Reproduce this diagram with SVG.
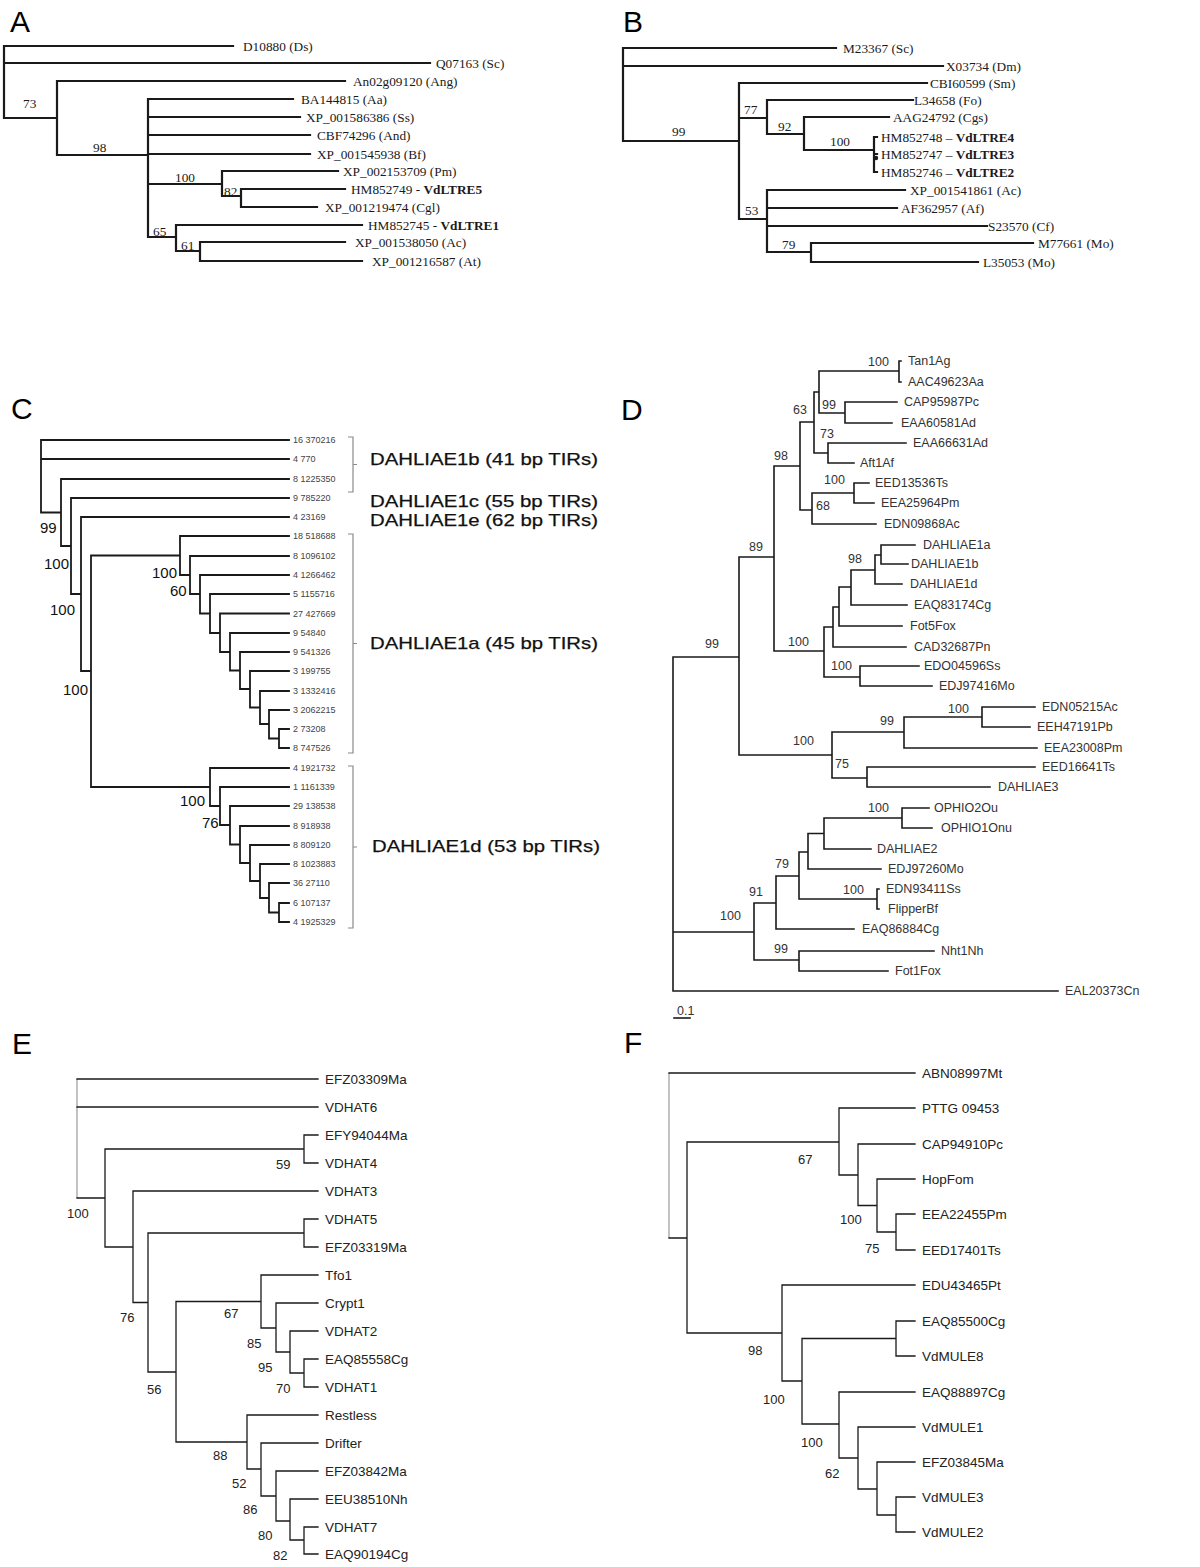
<svg xmlns="http://www.w3.org/2000/svg" width="1200" height="1567" viewBox="0 0 1200 1567">
<style>
.bg{fill:#fff}
.e1{fill:none;stroke:#1a1a1a;stroke-width:2.2;stroke-linecap:square}
.e2{fill:none;stroke:#1a1a1a;stroke-width:1.8;stroke-linecap:square}
.e3{fill:none;stroke:#1a1a1a;stroke-width:1.6;stroke-linecap:square}
.e4{fill:none;stroke:#1a1a1a;stroke-width:1.3;stroke-linecap:square}
.rt{fill:none;stroke:#9a9a9a;stroke-width:1.2}
.br{fill:none;stroke:#8a8a8a;stroke-width:1.2}
.pl{font-family:"Liberation Sans",Arial,sans-serif;font-size:30px;fill:#000}
.sr{font-family:"Liberation Serif","Times New Roman",serif;font-size:13.3px;fill:#1a1a1a}
.b{font-weight:bold}
.cs{font-family:"Liberation Sans",Arial,sans-serif;font-size:9px;fill:#444}
.cb{font-family:"Liberation Sans",Arial,sans-serif;font-size:15px;fill:#111}
.cg{font-family:"Liberation Sans",Arial,sans-serif;font-size:17px;fill:#111;stroke:#111;stroke-width:0.25}
.ds{font-family:"Liberation Sans",Arial,sans-serif;font-size:12.5px;fill:#333}
.es{font-family:"Liberation Sans",Arial,sans-serif;font-size:13.5px;fill:#222}
.eb{font-family:"Liberation Sans",Arial,sans-serif;font-size:13px;fill:#222}
</style>
<rect class="bg" x="0" y="0" width="1200" height="1567"/>

<!-- Panel labels -->
<text class="pl" x="10" y="32">A</text>
<text class="pl" x="623" y="32">B</text>
<text class="pl" x="11" y="419">C</text>
<text class="pl" x="621" y="420">D</text>
<text class="pl" x="12" y="1054">E</text>
<text class="pl" x="624" y="1053">F</text>

<!-- ================= CONNECTORS ================= -->
<g id="connectors">
 <g id="A-edges">
  <path class="e1" d="M4 46V118M4 46H233M4 63H430M4 118H57
   M57 81V155M57 81H345M57 155H148
   M148 99V237M148 99H293M148 117H300M148 135H310M148 154H310M148 184H222M148 237H176
   M222 171V196M222 171H338M222 196H241
   M241 189V207M241 189H345M241 207H317
   M176 225V251M176 225H362M176 251H200
   M200 242V261M200 242H345M200 261H362"/>
 </g>
 <g id="B-edges">
  <path class="e1" d="M623 48V141M623 48H836M623 66H943M623 141H739
   M739 83V219M739 83H927M739 118H767M739 219H767
   M767 100V134M767 100H913M767 134H804
   M804 117V150M804 117H889M804 150H874
   M874 137V172M874 137H877M874 154H877M874 172H877
   M767 190V252M767 190H905M767 208H897M767 226H987M767 252H811
   M811 243V262M811 243H1033M811 262H978"/>
  <circle cx="876" cy="158" r="2.2" fill="#1a1a1a"/>
 </g>
 <g id="C-edges">
  <path class="e2" d="M41 440V512.5M41 440H289M41 459H289M41 512.5H61
   M61 479V546M61 479H289M61 546H71
   M71 498V594M71 498H289M71 594H81
   M81 517V671M81 517H289M81 671H91
   M91 555.5V787M91 555.5H180M91 787H210
   M180 536V575M180 536H289M180 575H190
   M190 556V594M190 556H289M190 594H200
   M200 575V613.5M200 575H289M200 613.5H210
   M210 594V633M210 594H289M210 633H220
   M220 613.5V652M220 613.5H289M220 652H230
   M230 633V670.5M230 633H289M230 670.5H240
   M240 652V689M240 652H289M240 689H250
   M250 671V707.5M250 671H289M250 707.5H260
   M260 691V724M260 691H289M260 724H269
   M269 710V738.5M269 710H289M269 738.5H279
   M279 729V748M279 729H289M279 748H289
   M210 768V806M210 768H289M210 806H220
   M220 787V825M220 787H289M220 825H230
   M230 806V844.5M230 806H289M230 844.5H240
   M240 826V863M240 826H289M240 863H250
   M250 845V881M250 845H289M250 881H260
   M260 864V898M260 864H289M260 898H269
   M269 883V912.5M269 883H289M269 912.5H279
   M279 903V922M279 903H289M279 922H289"/>
  <path class="br" d="M348 437H353V492H348M353 464.5H357
   M348 534H353V753H348M353 643.5H357
   M348 766H353V928H348M353 847H357"/>
 </g>
 <g id="D-edges">
  <path class="e3" d="M673 657V991M673 657H739M673 932H754M673 991H1058
   M739 557V755M739 557H774M739 755H832
   M774 466V651M774 466H800M774 651H824
   M800 422V510M800 422H814M800 510H812
   M814 392V453M814 392H819M814 453H828
   M819 371V413M819 371H899M819 413H845
   M899 361V382M899 361H901M899 382H901
   M845 402V423M845 402H897M845 423H892
   M828 443V463M828 443H906M828 463H854
   M812 493V524M812 493H854M812 524H876
   M854 483V503M854 483H869M854 503H874
   M824 627V677M824 627H833M824 677H860
   M833 607V647M833 607H839M833 647H906
   M839 587V626M839 587H851M839 626H902
   M851 570V605M851 570H875M851 605H907
   M875 555V584M875 555H881M875 584H902
   M881 545V564M881 545H915M881 564H908
   M860 666V686M860 666H919M860 686H932
   M832 732V778M832 732H904M832 778H867
   M904 717V748M904 717H982M904 748H1037
   M982 707V727M982 707H1035M982 727H1030
   M867 767V787M867 767H1035M867 787H990
   M754 903V960M754 903H776M754 960H799
   M776 876V929M776 876H799M776 929H854
   M799 852V899M799 852H808M799 899H877
   M808 833.5V869M808 833.5H824M808 869H881
   M824 818V849M824 818H902M824 849H871
   M902 808V828M902 808H929M902 828H932
   M877 889V909M877 889H879M877 909H879
   M799 951V971M799 951H934M799 971H888"/>
  <path class="e3" d="M674 1018H690"/>
 </g>
 <g id="E-edges">
  <path class="rt" d="M77 1079V1198"/>
  <path class="e4" d="M77 1079H318M77 1107H318M77 1198H105
   M105 1149V1247M105 1149H304M105 1247H133
   M304 1135V1163M304 1135H318M304 1163H318
   M133 1191V1302.5M133 1191H318M133 1302.5H148
   M148 1233V1372M148 1233H304M148 1372H176
   M304 1219V1247M304 1219H318M304 1247H318
   M176 1301.5V1442M176 1301.5H261M176 1442H247
   M261 1275V1328M261 1275H318M261 1328H276
   M276 1303V1352M276 1303H318M276 1352H290
   M290 1331V1373M290 1331H318M290 1373H304
   M304 1359V1387M304 1359H318M304 1387H318
   M247 1415V1469M247 1415H318M247 1469H261
   M261 1443V1496M261 1443H318M261 1496H276
   M276 1471V1521M276 1471H318M276 1521H290
   M290 1499V1540M290 1499H318M290 1540H304
   M304 1527V1554M304 1527H318M304 1554H318"/>
 </g>
 <g id="F-edges">
  <path class="rt" d="M669 1073V1238"/>
  <path class="e4" d="M669 1073H915M669 1238H687
   M687 1142V1333M687 1142H839M687 1333H782
   M839 1108V1175M839 1108H915M839 1175H858
   M858 1144V1205.5M858 1144H915M858 1205.5H877
   M877 1179V1232M877 1179H915M877 1232H896
   M896 1214V1250M896 1214H915M896 1250H915
   M782 1285V1381M782 1285H915M782 1381H802
   M802 1338.5V1424M802 1338.5H896M802 1424H839
   M896 1321V1356M896 1321H915M896 1356H915
   M839 1392V1458M839 1392H915M839 1458H858
   M858 1427V1489M858 1427H915M858 1489H877
   M877 1462V1515M877 1462H915M877 1515H896
   M896 1497V1532M896 1497H915M896 1532H915"/>
 </g>
</g>

<!-- ================= PANEL A NODES ================= -->
<g id="panelA">
 <g id="A-D10880"><text class="sr" x="243" y="50.5">D10880 (Ds)</text></g>
 <g id="A-Q07163"><text class="sr" x="436" y="67.5">Q07163 (Sc)</text></g>
 <g id="A-An02g09120"><text class="sr" x="353" y="85.5">An02g09120 (Ang)</text></g>
 <g id="A-BA144815"><text class="sr" x="301" y="103.5">BA144815 (Aa)</text></g>
 <g id="A-XP001586386"><text class="sr" x="306" y="121.5">XP_001586386 (Ss)</text></g>
 <g id="A-CBF74296"><text class="sr" x="317" y="139.5">CBF74296 (And)</text></g>
 <g id="A-XP001545938"><text class="sr" x="317" y="158.5">XP_001545938 (Bf)</text></g>
 <g id="A-XP002153709"><text class="sr" x="343" y="175.5">XP_002153709 (Pm)</text></g>
 <g id="A-HM852749"><text class="sr" x="351" y="193.5">HM852749 - <tspan class="b">VdLTRE5</tspan></text></g>
 <g id="A-XP001219474"><text class="sr" x="325" y="211.5">XP_001219474 (Cgl)</text></g>
 <g id="A-HM852745"><text class="sr" x="368" y="229.5">HM852745 - <tspan class="b">VdLTRE1</tspan></text></g>
 <g id="A-XP001538050"><text class="sr" x="355" y="246.5">XP_001538050 (Ac)</text></g>
 <g id="A-XP001216587"><text class="sr" x="372" y="265.5">XP_001216587 (At)</text></g>
 <g id="A-support">
  <text class="sr" x="23" y="108">73</text>
  <text class="sr" x="93" y="152">98</text>
  <text class="sr" x="175" y="182">100</text>
  <text class="sr" x="224" y="196">82</text>
  <text class="sr" x="153" y="236">65</text>
  <text class="sr" x="181" y="250">61</text>
 </g>
</g>

<!-- ================= PANEL B NODES ================= -->
<g id="panelB">
 <g id="B-M23367"><text class="sr" x="843" y="52.5">M23367 (Sc)</text></g>
 <g id="B-X03734"><text class="sr" x="946" y="70.5">X03734 (Dm)</text></g>
 <g id="B-CBI60599"><text class="sr" x="930" y="87.5">CBI60599 (Sm)</text></g>
 <g id="B-L34658"><text class="sr" x="914" y="104.5">L34658 (Fo)</text></g>
 <g id="B-AAG24792"><text class="sr" x="893" y="121.5">AAG24792 (Cgs)</text></g>
 <g id="B-HM852748"><text class="sr" x="881" y="141.5">HM852748 – <tspan class="b">VdLTRE4</tspan></text></g>
 <g id="B-HM852747"><text class="sr" x="881" y="158.5">HM852747 – <tspan class="b">VdLTRE3</tspan></text></g>
 <g id="B-HM852746"><text class="sr" x="881" y="176.5">HM852746 – <tspan class="b">VdLTRE2</tspan></text></g>
 <g id="B-XP001541861"><text class="sr" x="910" y="194.5">XP_001541861 (Ac)</text></g>
 <g id="B-AF362957"><text class="sr" x="901" y="212.5">AF362957 (Af)</text></g>
 <g id="B-S23570"><text class="sr" x="988" y="230.5">S23570 (Cf)</text></g>
 <g id="B-M77661"><text class="sr" x="1038" y="247.5">M77661 (Mo)</text></g>
 <g id="B-L35053"><text class="sr" x="983" y="266.5">L35053 (Mo)</text></g>
 <g id="B-support">
  <text class="sr" x="672" y="136">99</text>
  <text class="sr" x="744" y="114">77</text>
  <text class="sr" x="778" y="131">92</text>
  <text class="sr" x="830" y="146">100</text>
  <text class="sr" x="745" y="215">53</text>
  <text class="sr" x="782" y="249">79</text>
 </g>
</g>

<!-- ================= PANEL C NODES ================= -->
<g id="panelC">
 <g id="C-l1"><text class="cs" x="293" y="443">16 370216</text></g>
 <g id="C-l2"><text class="cs" x="293" y="462">4 770</text></g>
 <g id="C-l3"><text class="cs" x="293" y="482">8 1225350</text></g>
 <g id="C-l4"><text class="cs" x="293" y="501">9 785220</text></g>
 <g id="C-l5"><text class="cs" x="293" y="520">4 23169</text></g>
 <g id="C-l6"><text class="cs" x="293" y="539">18 518688</text></g>
 <g id="C-l7"><text class="cs" x="293" y="559">8 1096102</text></g>
 <g id="C-l8"><text class="cs" x="293" y="578">4 1266462</text></g>
 <g id="C-l9"><text class="cs" x="293" y="597">5 1155716</text></g>
 <g id="C-l10"><text class="cs" x="293" y="616.5">27 427669</text></g>
 <g id="C-l11"><text class="cs" x="293" y="636">9 54840</text></g>
 <g id="C-l12"><text class="cs" x="293" y="655">9 541326</text></g>
 <g id="C-l13"><text class="cs" x="293" y="674">3 199755</text></g>
 <g id="C-l14"><text class="cs" x="293" y="694">3 1332416</text></g>
 <g id="C-l15"><text class="cs" x="293" y="713">3 2062215</text></g>
 <g id="C-l16"><text class="cs" x="293" y="732">2 73208</text></g>
 <g id="C-l17"><text class="cs" x="293" y="751">8 747526</text></g>
 <g id="C-l18"><text class="cs" x="293" y="771">4 1921732</text></g>
 <g id="C-l19"><text class="cs" x="293" y="790">1 1161339</text></g>
 <g id="C-l20"><text class="cs" x="293" y="809">29 138538</text></g>
 <g id="C-l21"><text class="cs" x="293" y="829">8 918938</text></g>
 <g id="C-l22"><text class="cs" x="293" y="848">8 809120</text></g>
 <g id="C-l23"><text class="cs" x="293" y="867">8 1023883</text></g>
 <g id="C-l24"><text class="cs" x="293" y="886">36 27110</text></g>
 <g id="C-l25"><text class="cs" x="293" y="906">6 107137</text></g>
 <g id="C-l26"><text class="cs" x="293" y="925">4 1925329</text></g>
 <g id="C-groups">
  <text class="cg" x="370" y="465" textLength="228" lengthAdjust="spacingAndGlyphs">DAHLIAE1b (41 bp TIRs)</text>
  <text class="cg" x="370" y="507" textLength="228" lengthAdjust="spacingAndGlyphs">DAHLIAE1c (55 bp TIRs)</text>
  <text class="cg" x="370" y="526" textLength="228" lengthAdjust="spacingAndGlyphs">DAHLIAE1e (62 bp TIRs)</text>
  <text class="cg" x="370" y="649" textLength="228" lengthAdjust="spacingAndGlyphs">DAHLIAE1a (45 bp TIRs)</text>
  <text class="cg" x="372" y="852" textLength="228" lengthAdjust="spacingAndGlyphs">DAHLIAE1d (53 bp TIRs)</text>
 </g>
 <g id="C-support">
  <text class="cb" x="40" y="533">99</text>
  <text class="cb" x="44" y="569">100</text>
  <text class="cb" x="50" y="615">100</text>
  <text class="cb" x="63" y="695">100</text>
  <text class="cb" x="152" y="578">100</text>
  <text class="cb" x="170" y="596">60</text>
  <text class="cb" x="180" y="806">100</text>
  <text class="cb" x="202" y="828">76</text>
 </g>
</g>

<!-- ================= PANEL D NODES ================= -->
<g id="panelD">
 <g id="D-Tan1Ag"><text class="ds" x="908" y="365">Tan1Ag</text></g>
 <g id="D-AAC49623Aa"><text class="ds" x="908" y="386">AAC49623Aa</text></g>
 <g id="D-CAP95987Pc"><text class="ds" x="904" y="406">CAP95987Pc</text></g>
 <g id="D-EAA60581Ad"><text class="ds" x="901" y="427">EAA60581Ad</text></g>
 <g id="D-EAA66631Ad"><text class="ds" x="913" y="447">EAA66631Ad</text></g>
 <g id="D-Aft1Af"><text class="ds" x="860" y="467">Aft1Af</text></g>
 <g id="D-EED13536Ts"><text class="ds" x="875" y="487">EED13536Ts</text></g>
 <g id="D-EEA25964Pm"><text class="ds" x="881" y="507">EEA25964Pm</text></g>
 <g id="D-EDN09868Ac"><text class="ds" x="884" y="528">EDN09868Ac</text></g>
 <g id="D-DAHLIAE1a"><text class="ds" x="923" y="549">DAHLIAE1a</text></g>
 <g id="D-DAHLIAE1b"><text class="ds" x="911" y="568">DAHLIAE1b</text></g>
 <g id="D-DAHLIAE1d"><text class="ds" x="910" y="588">DAHLIAE1d</text></g>
 <g id="D-EAQ83174Cg"><text class="ds" x="914" y="609">EAQ83174Cg</text></g>
 <g id="D-Fot5Fox"><text class="ds" x="910" y="630">Fot5Fox</text></g>
 <g id="D-CAD32687Pn"><text class="ds" x="914" y="651">CAD32687Pn</text></g>
 <g id="D-EDO04596Ss"><text class="ds" x="924" y="670">EDO04596Ss</text></g>
 <g id="D-EDJ97416Mo"><text class="ds" x="939" y="690">EDJ97416Mo</text></g>
 <g id="D-EDN05215Ac"><text class="ds" x="1042" y="711">EDN05215Ac</text></g>
 <g id="D-EEH47191Pb"><text class="ds" x="1037" y="731">EEH47191Pb</text></g>
 <g id="D-EEA23008Pm"><text class="ds" x="1044" y="752">EEA23008Pm</text></g>
 <g id="D-EED16641Ts"><text class="ds" x="1042" y="771">EED16641Ts</text></g>
 <g id="D-DAHLIAE3"><text class="ds" x="998" y="791">DAHLIAE3</text></g>
 <g id="D-OPHIO2Ou"><text class="ds" x="934" y="812">OPHIO2Ou</text></g>
 <g id="D-OPHIO1Onu"><text class="ds" x="941" y="832">OPHIO1Onu</text></g>
 <g id="D-DAHLIAE2"><text class="ds" x="877" y="853">DAHLIAE2</text></g>
 <g id="D-EDJ97260Mo"><text class="ds" x="888" y="873">EDJ97260Mo</text></g>
 <g id="D-EDN93411Ss"><text class="ds" x="886" y="893">EDN93411Ss</text></g>
 <g id="D-FlipperBf"><text class="ds" x="888" y="913">FlipperBf</text></g>
 <g id="D-EAQ86884Cg"><text class="ds" x="862" y="933">EAQ86884Cg</text></g>
 <g id="D-Nht1Nh"><text class="ds" x="941" y="955">Nht1Nh</text></g>
 <g id="D-Fot1Fox"><text class="ds" x="895" y="975">Fot1Fox</text></g>
 <g id="D-EAL20373Cn"><text class="ds" x="1065" y="995">EAL20373Cn</text></g>
 <g id="D-scale"><text class="ds" x="677" y="1015" font-size="11">0.1</text></g>
 <g id="D-support">
  <text class="ds" x="868" y="366">100</text>
  <text class="ds" x="822" y="409">99</text>
  <text class="ds" x="793" y="414">63</text>
  <text class="ds" x="820" y="438">73</text>
  <text class="ds" x="774" y="460">98</text>
  <text class="ds" x="824" y="484">100</text>
  <text class="ds" x="816" y="510">68</text>
  <text class="ds" x="749" y="551">89</text>
  <text class="ds" x="848" y="563">98</text>
  <text class="ds" x="705" y="648">99</text>
  <text class="ds" x="788" y="646">100</text>
  <text class="ds" x="831" y="670">100</text>
  <text class="ds" x="948" y="713">100</text>
  <text class="ds" x="880" y="725">99</text>
  <text class="ds" x="793" y="745">100</text>
  <text class="ds" x="835" y="768">75</text>
  <text class="ds" x="868" y="812">100</text>
  <text class="ds" x="775" y="868">79</text>
  <text class="ds" x="749" y="896">91</text>
  <text class="ds" x="843" y="894">100</text>
  <text class="ds" x="720" y="920">100</text>
  <text class="ds" x="774" y="953">99</text>
 </g>
</g>

<!-- ================= PANEL E NODES ================= -->
<g id="panelE">
 <g id="E-EFZ03309Ma"><text class="es" x="325" y="1084">EFZ03309Ma</text></g>
 <g id="E-VDHAT6"><text class="es" x="325" y="1112">VDHAT6</text></g>
 <g id="E-EFY94044Ma"><text class="es" x="325" y="1140">EFY94044Ma</text></g>
 <g id="E-VDHAT4"><text class="es" x="325" y="1168">VDHAT4</text></g>
 <g id="E-VDHAT3"><text class="es" x="325" y="1196">VDHAT3</text></g>
 <g id="E-VDHAT5"><text class="es" x="325" y="1224">VDHAT5</text></g>
 <g id="E-EFZ03319Ma"><text class="es" x="325" y="1252">EFZ03319Ma</text></g>
 <g id="E-Tfo1"><text class="es" x="325" y="1280">Tfo1</text></g>
 <g id="E-Crypt1"><text class="es" x="325" y="1308">Crypt1</text></g>
 <g id="E-VDHAT2"><text class="es" x="325" y="1336">VDHAT2</text></g>
 <g id="E-EAQ85558Cg"><text class="es" x="325" y="1364">EAQ85558Cg</text></g>
 <g id="E-VDHAT1"><text class="es" x="325" y="1392">VDHAT1</text></g>
 <g id="E-Restless"><text class="es" x="325" y="1420">Restless</text></g>
 <g id="E-Drifter"><text class="es" x="325" y="1448">Drifter</text></g>
 <g id="E-EFZ03842Ma"><text class="es" x="325" y="1476">EFZ03842Ma</text></g>
 <g id="E-EEU38510Nh"><text class="es" x="325" y="1504">EEU38510Nh</text></g>
 <g id="E-VDHAT7"><text class="es" x="325" y="1532">VDHAT7</text></g>
 <g id="E-EAQ90194Cg"><text class="es" x="325" y="1559">EAQ90194Cg</text></g>
 <g id="E-support">
  <text class="eb" x="67" y="1218">100</text>
  <text class="eb" x="276" y="1169">59</text>
  <text class="eb" x="120" y="1322">76</text>
  <text class="eb" x="147" y="1394">56</text>
  <text class="eb" x="224" y="1318">67</text>
  <text class="eb" x="247" y="1348">85</text>
  <text class="eb" x="258" y="1372">95</text>
  <text class="eb" x="276" y="1393">70</text>
  <text class="eb" x="213" y="1460">88</text>
  <text class="eb" x="232" y="1488">52</text>
  <text class="eb" x="243" y="1514">86</text>
  <text class="eb" x="258" y="1540">80</text>
  <text class="eb" x="273" y="1560">82</text>
 </g>
</g>

<!-- ================= PANEL F NODES ================= -->
<g id="panelF">
 <g id="F-ABN08997Mt"><text class="es" x="922" y="1078">ABN08997Mt</text></g>
 <g id="F-PTTG09453"><text class="es" x="922" y="1113">PTTG 09453</text></g>
 <g id="F-CAP94910Pc"><text class="es" x="922" y="1149">CAP94910Pc</text></g>
 <g id="F-HopFom"><text class="es" x="922" y="1184">HopFom</text></g>
 <g id="F-EEA22455Pm"><text class="es" x="922" y="1219">EEA22455Pm</text></g>
 <g id="F-EED17401Ts"><text class="es" x="922" y="1255">EED17401Ts</text></g>
 <g id="F-EDU43465Pt"><text class="es" x="922" y="1290">EDU43465Pt</text></g>
 <g id="F-EAQ85500Cg"><text class="es" x="922" y="1326">EAQ85500Cg</text></g>
 <g id="F-VdMULE8"><text class="es" x="922" y="1361">VdMULE8</text></g>
 <g id="F-EAQ88897Cg"><text class="es" x="922" y="1397">EAQ88897Cg</text></g>
 <g id="F-VdMULE1"><text class="es" x="922" y="1432">VdMULE1</text></g>
 <g id="F-EFZ03845Ma"><text class="es" x="922" y="1467">EFZ03845Ma</text></g>
 <g id="F-VdMULE3"><text class="es" x="922" y="1502">VdMULE3</text></g>
 <g id="F-VdMULE2"><text class="es" x="922" y="1537">VdMULE2</text></g>
 <g id="F-support">
  <text class="eb" x="798" y="1164">67</text>
  <text class="eb" x="840" y="1224">100</text>
  <text class="eb" x="865" y="1253">75</text>
  <text class="eb" x="748" y="1355">98</text>
  <text class="eb" x="763" y="1404">100</text>
  <text class="eb" x="801" y="1447">100</text>
  <text class="eb" x="825" y="1478">62</text>
 </g>
</g>
</svg>
